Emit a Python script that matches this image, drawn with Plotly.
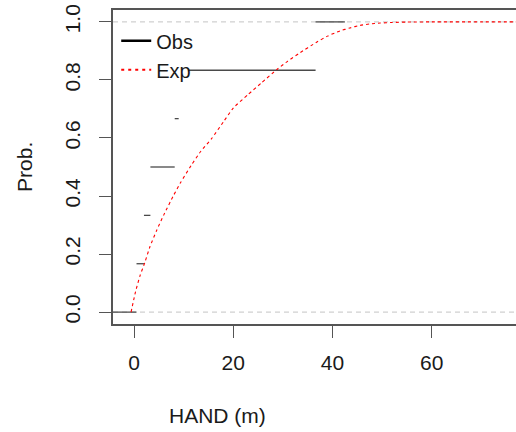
import plotly.graph_objects as go

# Observed ECDF step points (HAND, m) and probabilities
obs_x = [0.5, 2.0, 3.3, 8.2, 9.0, 36.6]
obs_p = [1/6, 2/6, 3/6, 4/6, 5/6, 1.0]
obs_left = -6.0
obs_right = 42.5

# Expected (fitted) cumulative curve
exp_x = [-0.6, 0.3, 1.2, 2.2, 3.2, 4.6, 6.0, 7.9, 9.3, 11.5, 13.5, 15.6, 18.0, 20.0,
         23.0, 25.7, 28.8, 31.0, 33.3, 36.8, 39.0, 41.5, 43.5, 45.6, 47.5, 49.6,
         52.0, 55.0, 60.0, 70.0, 80.0]
exp_p = [0, 0.07, 0.125, 0.172, 0.225, 0.283, 0.335, 0.40, 0.444, 0.505, 0.555,
         0.597, 0.655, 0.703, 0.750, 0.790, 0.836, 0.865, 0.892, 0.930, 0.951,
         0.969, 0.979, 0.988, 0.993, 0.996, 0.998, 0.9995, 1.0, 1.0, 1.0]

x_ticks = [0, 20, 40, 60, 80]
y_ticks = [0.0, 0.2, 0.4, 0.6, 0.8, 1.0]

FONT = "Liberation Sans, Arial, sans-serif"
AX = "#555555"

# build step segments
starts = [obs_left] + obs_x
ends = obs_x + [obs_right]
levels = [0.0] + obs_p
sx, sy = [], []
for a, b, p in zip(starts, ends, levels):
    sx += [a, b, None]
    sy += [p, p, None]

fig = go.Figure()
fig.add_trace(go.Scatter(x=sx, y=sy, mode="lines", showlegend=False,
                         line=dict(color="#4a4a4a", width=1.3), hoverinfo="skip"))
fig.add_trace(go.Scatter(x=exp_x, y=exp_p, mode="lines", showlegend=False,
                         line=dict(color="red", width=1.1, dash="3px,3px",
                                   shape="spline", smoothing=0.5)))
# legend entries
fig.add_trace(go.Scatter(x=[None], y=[None], mode="lines", name="Obs",
                         line=dict(color="black", width=2.5)))
fig.add_trace(go.Scatter(x=[None], y=[None], mode="lines", name="Exp",
                         line=dict(color="red", width=2, dash="3px,4px")))

for yv in (0, 1):
    fig.add_shape(type="line", xref="paper", x0=0, x1=1, yref="y", y0=yv, y1=yv,
                  line=dict(color="#c4c4c4", width=1, dash="5px,4px"), layer="below")

# legend background (white box, narrower than the text like R's legend)
fig.add_shape(type="rect", xref="paper", yref="paper", x0=0.003, x1=0.186,
              y0=0.761, y1=0.943, fillcolor="white", line=dict(width=0), layer="above")

fig.update_layout(
    width=516, height=432,
    margin=dict(l=113, r=0, t=10, b=108),
    paper_bgcolor="white", plot_bgcolor="white",
    font=dict(family=FONT, size=21, color="#1a1a1a"),
    showlegend=True,
    legend=dict(x=0.008, y=0.964, xanchor="left", yanchor="top",
                bgcolor="rgba(0,0,0,0)", borderwidth=0, font=dict(size=20),
                tracegroupgap=0, itemwidth=30),
    xaxis=dict(range=[-4.24, 77.0], tickvals=x_ticks, ticks="outside", ticklen=12,
               tickcolor=AX, showline=True, linecolor=AX, linewidth=1.5, mirror=True,
               showgrid=False, zeroline=False, ticklabelstandoff=7),
    yaxis=dict(range=[-0.041, 1.041], tickvals=y_ticks, tickformat=".1f",
               ticks="outside", ticklen=12, tickcolor=AX, tickangle=-90,
               showline=True, linecolor=AX, linewidth=1.5, mirror=False,
               showgrid=False, zeroline=False, ticklabelstandoff=11),
    annotations=[
        dict(text="HAND (m)", xref="paper", yref="paper", x=0.26, y=-0.29,
             xanchor="center", yanchor="middle", showarrow=False, font=dict(size=21)),
        dict(text="Prob.", xref="paper", yref="paper", x=-0.221, y=0.5,
             xanchor="center", yanchor="middle", textangle=-90, showarrow=False,
             font=dict(size=21)),
    ],
)

fig.write_html("out.html")
